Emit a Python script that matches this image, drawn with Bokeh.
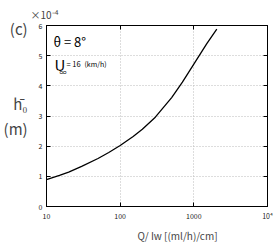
from bokeh.plotting import figure
from bokeh.models import Label, LinearAxis, LogAxis, FixedTicker, Range1d, Title
from bokeh.embed import file_html
from bokeh.resources import INLINE

# data (y in units of 1e-4 m)
q = [10, 15, 20, 30, 50, 70, 100, 150, 200, 300, 500, 700, 1000, 1500, 2050]
h = [0.89, 1.03, 1.14, 1.33, 1.59, 1.79, 2.02, 2.32, 2.56, 2.96, 3.61, 4.12, 4.72, 5.40, 5.88]
x_ticks = [10, 100, 1000, 10000]
x_labels = {10: "10", 100: "100", 1000: "1000", 10000: "10⁴"}
y_ticks = [0, 1, 2, 3, 4, 5, 6]

W, H = 273, 244
FL, FR, FT, FB = 46, 267, 24, 208  # frame edges in page px
FONT = "Noto Sans CJK JP"

p = figure(width=W, height=H, x_axis_type="log", output_backend="svg",
           toolbar_location=None, x_range=Range1d(10, 10000), y_range=Range1d(0, 6),
           min_border_left=FL, min_border_right=W - FR, min_border_top=FT,
           min_border_bottom=H - FB)
p.outline_line_color = "black"
p.background_fill_color = "white"

for ax in p.xaxis:
    ax.ticker = FixedTicker(ticks=x_ticks)
    ax.major_label_overrides = x_labels
for ax in p.yaxis:
    ax.ticker = FixedTicker(ticks=y_ticks)

def style(ax, labels=True):
    ax.major_tick_in = 4
    ax.major_tick_out = 0
    ax.minor_tick_line_color = None
    ax.axis_line_color = "black"
    ax.major_tick_line_color = "black"
    ax.major_label_text_font = FONT
    ax.major_label_text_font_size = "7px"
    ax.major_label_text_color = "#222222"
    ax.major_label_standoff = 4
    if not labels:
        ax.major_label_text_font_size = "1px"
        ax.major_label_text_alpha = 0
        ax.major_label_standoff = 0

style(p.xaxis[0])
style(p.yaxis[0])
top = LogAxis(ticker=FixedTicker(ticks=x_ticks))
style(top, False)
p.add_layout(top, "above")
right = LinearAxis(ticker=FixedTicker(ticks=y_ticks))
style(right, False)
p.add_layout(right, "right")

# y label block: panel tag, quantity and unit
ya = p.yaxis[0]
ya.axis_label = "(c)\n\u00a0\n\u00a0\nh\u0304\u2080\n(m)\n\u00a0\n\u00a0\n\u00a0"
ya.axis_label_orientation = "horizontal"
ya.axis_label_text_font = FONT
ya.axis_label_text_font_size = "15px"
ya.axis_label_text_font_style = "normal"
ya.axis_label_text_line_height = 1.19
ya.axis_label_standoff = 8

p.xgrid.grid_line_color = "#bbbbbb"
p.ygrid.grid_line_color = "#bbbbbb"
p.xgrid.grid_line_dash = "1 2"
p.ygrid.grid_line_dash = "1 2"

p.line(q, h, line_color="black", line_width=1.3)

p.add_layout(Title(text="×10⁻⁴", align="left", offset=30 - FL, standoff=8,
                   text_font=FONT, text_font_size="10px", text_font_style="normal"), "above")
p.add_layout(Title(text="Q/ Iw [(ml/h)/cm]", align="left", offset=137 - FL, standoff=4,
                   text_font=FONT, text_font_size="10px", text_font_style="normal"), "below")

def txt(s, x, y, size, bold=False):
    # x, y in page pixels (top-left of text); screen units are frame-relative
    lab = Label(x=x - FL, y=FB - y, x_units="screen", y_units="screen", text=s,
                text_font=FONT, text_font_size=f"{size}px", text_baseline="top",
                text_color="black", text_font_style="bold" if bold else "normal")
    p.add_layout(lab)

txt("θ = 8°", 53, 33, 13)
txt("U", 54, 55, 15)
txt("∞", 59, 68, 7)
txt("= 16", 66, 59, 7.5)
txt("(km/h)", 84, 60, 7)

open("out.html", "w").write(file_html(p, INLINE))
